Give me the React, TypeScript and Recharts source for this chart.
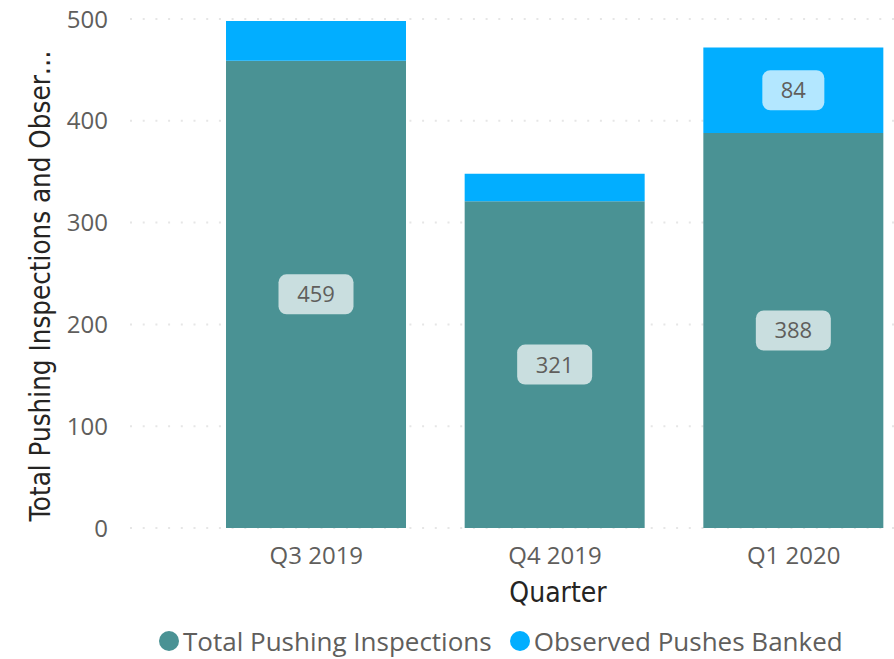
import { BarChart, Bar, XAxis, YAxis, CartesianGrid, Legend, LabelList, Label } from 'recharts';

const quarters = ['Q3 2019', 'Q4 2019', 'Q1 2020'];
const totalPushingInspections = [459, 321, 388];
const observedPushesBanked = [39, 27, 84];
const yTicks = [0, 100, 200, 300, 400, 500];

const TEAL = '#4A9294';
const BLUE = '#02AEFF';
const TEXT = '#605E5C';
const FONT = '"Open Sans", "Noto Sans", sans-serif';
const TITLE_FONT = '"DejaVu Sans Condensed", "DejaVu Sans", sans-serif';

const data = quarters.map((q, i) => ({
  quarter: q,
  inspections: totalPushingInspections[i],
  banked: observedPushesBanked[i],
}));

// pill shaped data label, hidden when the segment is too short (like Power BI)
function pillLabel(props: any) {
  const { x, y, width, height, value } = props;
  if (height < 60) return null;
  const text = String(value);
  const w = 36 + 13 * text.length;
  const h = 40;
  const cx = x + width / 2;
  const cy = y + height / 2;
  return (
    <g>
      <rect x={cx - w / 2} y={cy - h / 2} width={w} height={h} rx={8} fill="#fff" fillOpacity={0.7} />
      <text x={cx} y={cy} dy="0.36em" textAnchor="middle" fontSize={22} fontFamily={FONT} fill={TEXT}>
        {text}
      </text>
    </g>
  );
}

function yTitle() {
  const x = 50;
  const y = 286;
  return (
    <text
      x={x}
      y={y}
      transform={`rotate(-90 ${x} ${y})`}
      textAnchor="middle"
      fontSize={27.5}
      fontFamily={TITLE_FONT}
      fill="#252423"
    >
      Total Pushing Inspections and Obser…
    </text>
  );
}

function xTitle(props: any) {
  const { viewBox } = props;
  return (
    <text
      x={558}
      y={viewBox.y + 74}
      textAnchor="middle"
      fontSize={28}
      fontFamily={TITLE_FONT}
      fill="#252423"
    >
      Quarter
    </text>
  );
}

function legendContent() {
  const items = [
    { name: 'Total Pushing Inspections', color: TEAL },
    { name: 'Observed Pushes Banked', color: BLUE },
  ];
  return (
    <div style={{ display: 'flex', alignItems: 'center', fontFamily: FONT, fontSize: 26, color: TEXT, whiteSpace: 'nowrap' }}>
      {items.map((it) => (
        <span key={it.name} style={{ display: 'flex', alignItems: 'center', marginRight: 18 }}>
          <span
            style={{
              display: 'inline-block',
              width: 20,
              height: 20,
              borderRadius: '50%',
              background: it.color,
              marginRight: 4,
            }}
          />
          {it.name}
        </span>
      ))}
    </div>
  );
}

export default function App() {
  return (
    <div style={{ position: 'absolute', left: 0, top: 0, width: 894, height: 659, overflow: 'hidden', background: '#fff' }}>
      <BarChart width={920} height={659} data={data} margin={{ top: 19, right: 7, left: 0, bottom: 0 }}>
        <CartesianGrid vertical={false} stroke="#E6E6E6" strokeWidth={2} strokeDasharray="2 10.7" />
        <XAxis
          dataKey="quarter"
          tickLine={false}
          axisLine={false}
          tickSize={0}
          tickMargin={19}
          height={80}
          padding={{ left: 67, right: 0 }}
          tick={{ fill: TEXT, fontSize: 24, fontFamily: FONT }}
        >
          <Label content={xTitle} />
        </XAxis>
        <YAxis
          width={130}
          domain={[0, 500]}
          ticks={yTicks}
          tickLine={false}
          axisLine={false}
          tickSize={0}
          tickMargin={22}
          tick={{ fill: TEXT, fontSize: 24, fontFamily: FONT }}
        >
          <Label content={yTitle} />
        </YAxis>
        <Legend
          verticalAlign="bottom"
          height={51}
          content={legendContent}
          wrapperStyle={{ position: 'absolute', left: 159, top: 623, width: 760 }}
        />
        <Bar dataKey="inspections" name="Total Pushing Inspections" stackId="a" fill={TEAL} barSize={180} isAnimationActive={false}>
          <LabelList dataKey="inspections" content={pillLabel} />
        </Bar>
        <Bar dataKey="banked" name="Observed Pushes Banked" stackId="a" fill={BLUE} barSize={180} isAnimationActive={false}>
          <LabelList dataKey="banked" content={pillLabel} />
        </Bar>
      </BarChart>
    </div>
  );
}
